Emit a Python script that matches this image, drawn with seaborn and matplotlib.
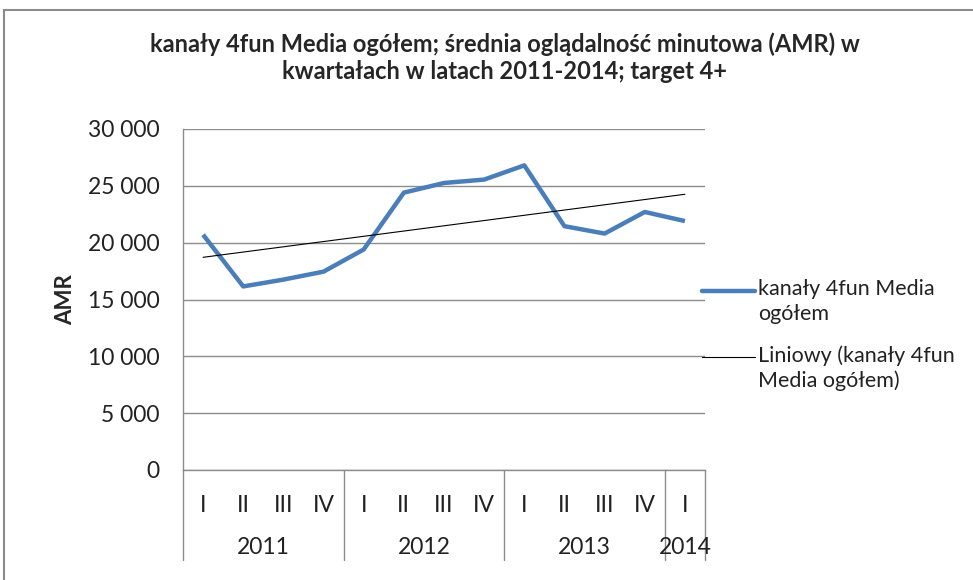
import numpy as np
import pandas as pd
import matplotlib.pyplot as plt
import seaborn as sns
from matplotlib.lines import Line2D
from matplotlib.patches import Rectangle

# dane
quarters = ["I", "II", "III", "IV", "I", "II", "III", "IV", "I", "II", "III", "IV", "I"]
years = ["2011", "2012", "2013", "2014"]
year_counts = [4, 4, 4, 1]
amr = [20700, 16150, 16750, 17450, 19400, 24400, 25250, 25550, 26800, 21450, 20800, 22700, 21900]

series_name = "kanały 4fun Media\nogółem"
trend_name = "Liniowy (kanały 4fun\nMedia ogółem)"
title = "kanały 4fun Media ogółem; średnia oglądalność minutowa (AMR) w\nkwartałach w latach 2011-2014; target 4+"

pos = np.arange(len(amr))
df = pd.DataFrame({"pos": pos, "AMR": amr})
# linia trendu liniowego (jak w Excelu)
coef = np.polyfit(pos, amr, 1)
df["trend"] = np.polyval(coef, pos)

sns.set_style("white")
plt.rcParams["font.family"] = ["Lato", "DejaVu Sans"]

W, H = 973, 580
fig = plt.figure(figsize=(W / 100, H / 100), dpi=100)
ax = fig.add_axes([183 / W, (H - 470) / H, (705 - 183) / W, (470 - 129) / H])

blue = "#4A7EBB"
grid = "#8C8C8C"
txt = "#222222"

sns.lineplot(data=df, x="pos", y="AMR", ax=ax, color=blue, linewidth=3.2, solid_capstyle="butt")
sns.lineplot(data=df, x="pos", y="trend", ax=ax, color="black", linewidth=0.8)

ax.set_xlim(-0.5, len(amr) - 0.5)
ax.set_ylim(0, 30000)
ax.set_yticks(range(0, 30001, 5000))
ax.set_yticklabels([f"{v:,}".replace(",", " ") for v in range(0, 30001, 5000)], fontsize=16.5, color=txt)
ax.yaxis.grid(True, color=grid, linewidth=1)
ax.set_axisbelow(True)
ax.tick_params(axis="y", length=0, pad=17)

for s in ["top", "right"]:
    ax.spines[s].set_visible(False)
ax.spines["left"].set_color(grid)
ax.spines["bottom"].set_color(grid)
ax.spines["left"].set_linewidth(1)
ax.spines["bottom"].set_linewidth(1)

ax.set_xticks(pos)
ax.set_xticklabels(quarters, fontsize=16.5, color=txt)
ax.tick_params(axis="x", length=0, pad=18)
ax.set_xlabel("")
ax.set_ylabel("AMR", fontsize=16, fontweight="bold", labelpad=8)

# dwupoziomowa oś kategorii
trans = ax.get_xaxis_transform()
edges = np.concatenate([[0], np.cumsum(year_counts)]) - 0.5
for e in edges:
    ax.plot([e, e], [0, -0.265], transform=trans, color=grid, linewidth=1, clip_on=False)
for i, y in enumerate(years):
    ax.text((edges[i] + edges[i + 1]) / 2, -0.228, y, transform=trans, ha="center", va="center",
            fontsize=16.5, color=txt)

fig.suptitle(title, x=505 / W, y=1 - 32 / H, fontsize=17, fontweight="bold", linespacing=1.25, va="top")

# legenda
def legend_item(y_px, color, lw, label):
    fig.add_artist(Line2D([702 / W, 755 / W], [1 - y_px / H, 1 - y_px / H], color=color, linewidth=lw,
                          transform=fig.transFigure))
    fig.text(758 / W, 1 - (y_px - 12) / H, label, fontsize=15.5, color=txt, va="top", linespacing=1.3)

legend_item(291, blue, 3.2, series_name)
legend_item(357, "black", 0.8, trend_name)

# ramka obszaru wykresu
fig.add_artist(Rectangle((4 / W, -0.05), 1.1, 1 - 10 / H + 0.05, transform=fig.transFigure,
                         fill=False, edgecolor="#8C8C8C", linewidth=1.5))

fig.savefig("out.png", dpi=100)
